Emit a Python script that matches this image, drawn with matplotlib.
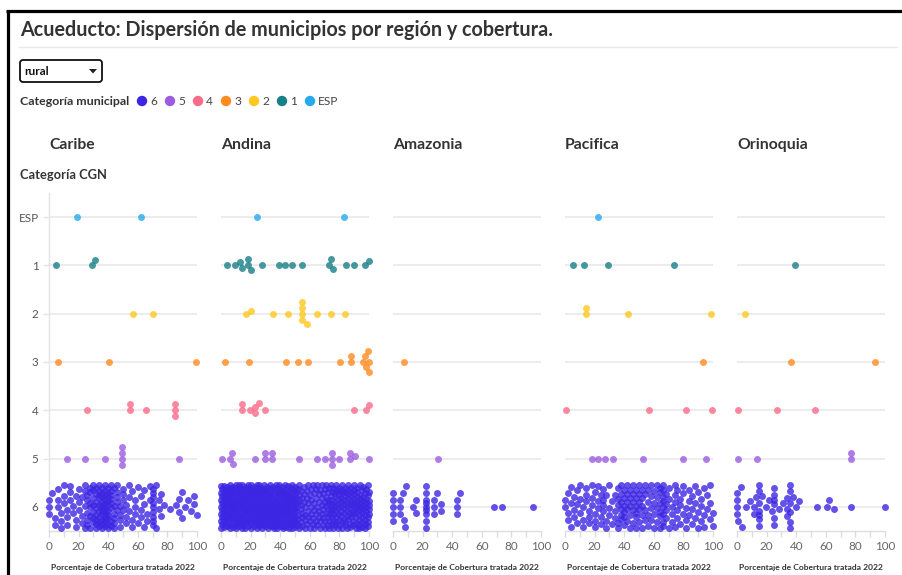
import numpy as np
import matplotlib
matplotlib.use("Agg")
import matplotlib.pyplot as plt
from matplotlib.lines import Line2D
from matplotlib.patches import FancyBboxPatch, Polygon, Circle

plt.rcParams['font.family'] = ['Lato', 'DejaVu Sans']

# ---------------- data ----------------
REGIONS = ["Caribe", "Andina", "Amazonia", "Pacifica", "Orinoquia"]
ROW_LABELS = ["ESP", "1", "2", "3", "4", "5", "6"]
LEGEND_ORDER = ["6", "5", "4", "3", "2", "1", "ESP"]
COLORS = {"6": "#3c26e3", "5": "#9b5ce0", "4": "#f96b8b", "3": "#ff8b1f",
          "2": "#ffc71f", "1": "#177f87", "ESP": "#27a9ec"}
X_TICKS = [0, 20, 40, 60, 80, 100]

CARIBE_ESP = [19, 62]
CARIBE_1 = [5, 29, 31]
CARIBE_2 = [57, 70]
CARIBE_3 = [6, 40.5, 99.5]
CARIBE_4 = [26, 55, 55, 65.5, 85, 85, 85]
CARIBE_5 = [12, 24, 38, 49.5, 49.5, 49.5, 49.5, 88]
CARIBE_6_X = [0, 2, 4, 6, 8, 10, 12, 14, 16, 18, 20, 22, 24, 26, 28, 30, 32, 34, 36, 38,
              40, 42, 44, 46, 48, 50, 52, 54, 56, 58, 60, 62, 64, 66, 68, 70, 72, 74, 76, 78,
              80, 82, 84, 86, 88, 90, 92, 94, 96, 98, 100]
CARIBE_6_N = [3, 1, 2, 3, 3, 3, 3, 3, 2, 3, 3, 3, 4, 5, 6, 7, 8, 9, 11, 12,
              10, 8, 6, 5, 4, 4, 3, 3, 3, 3, 2, 3, 3, 2, 2, 9, 2, 2, 2, 1,
              0, 1, 0, 1, 2, 2, 1, 1, 1, 2, 1]

ANDINA_ESP = [24, 83]
ANDINA_1 = [4, 9.5, 13, 14, 18, 18, 20, 28, 39, 43, 48, 54.5, 73, 74, 76, 84.5, 90, 97, 100]
ANDINA_2 = [17, 20.5, 35, 45, 55, 55, 55, 55, 58, 65, 74, 84]
ANDINA_3 = [3, 19, 44, 52, 59, 80.5, 88, 88, 96, 97, 98, 99, 100, 100]
ANDINA_4 = [14, 14, 19.5, 23, 23, 26, 30, 90, 98, 100]
ANDINA_5 = [1, 6, 7.5, 8, 23, 30, 30, 34.5, 34.5, 53, 65, 70, 75, 75, 75, 80, 87, 87, 90.5, 100]
ANDINA_6_X = [0, 1, 2, 3, 4, 5, 6, 7, 8, 9, 10, 11, 12, 13, 14, 15, 16, 17, 18, 19,
              20, 21, 22, 23, 24, 25, 26, 27, 28, 29, 30, 31, 32, 33, 34, 35, 36, 37, 38, 39,
              40, 41, 42, 43, 44, 45, 46, 47, 48, 49, 50, 51, 52, 53, 54, 55, 56, 57, 58, 59,
              60, 61, 62, 63, 64, 65, 66, 67, 68, 69, 70, 71, 72, 73, 74, 75, 76, 77, 78, 79,
              80, 81, 82, 83, 84, 85, 86, 87, 88, 89, 90, 91, 92, 93, 94, 95, 96, 97, 98, 99, 100]
ANDINA_6_N = [7, 6, 7, 7, 6, 7, 7, 6, 7, 7, 6, 7, 7, 6, 7, 7, 6, 7, 7, 6,
              7, 7, 6, 7, 7, 6, 7, 7, 6, 7, 7, 6, 7, 7, 6, 7, 7, 6, 7, 7,
              6, 7, 7, 6, 7, 7, 6, 7, 6, 6, 6, 5, 5, 4, 4, 4, 3, 4, 3, 4,
              3, 4, 3, 4, 4, 3, 4, 3, 4, 4, 4, 4, 5, 5, 4, 5, 5, 5, 5, 5,
              5, 5, 5, 5, 5, 5, 5, 5, 5, 5, 5, 5, 5, 5, 5, 5, 5, 5, 5, 5, 5]

AMAZONIA_ESP = []
AMAZONIA_1 = []
AMAZONIA_2 = []
AMAZONIA_3 = [7.5]
AMAZONIA_4 = []
AMAZONIA_5 = [30.5]
AMAZONIA_6 = [0, 0, 0, 0, 0, 5, 5, 5, 7, 7.5, 8, 8.5, 13.5, 15.5, 15.5,
              22.5, 22.5, 22.5, 22.5, 22.5, 22.5, 22.5, 22.5, 22.5,
              28, 28, 28, 30, 32.5, 32.5, 43.5, 43.5, 43.5, 45, 68.5, 73.5, 94.5]

PACIFICA_ESP = [22]
PACIFICA_1 = [5.5, 12.5, 29, 73.5]
PACIFICA_2 = [14.5, 14.5, 42.5, 98.5]
PACIFICA_3 = [93]
PACIFICA_4 = [0.5, 56.5, 81.5, 99.5]
PACIFICA_5 = [18.5, 22.5, 27, 32.5, 52.5, 80, 95]
PACIFICA_6_X = [0, 2, 4, 6, 8, 10, 12, 14, 16, 18, 20, 22, 24, 26, 28, 30, 32, 34, 36, 38,
                40, 42, 44, 46, 48, 50, 52, 54, 56, 58, 60, 62, 64, 66, 68, 70, 72, 74, 76, 78,
                80, 82, 84, 86, 88, 90, 92, 94, 96, 98, 100]
PACIFICA_6_N = [2, 3, 3, 3, 3, 3, 3, 3, 3, 3, 4, 3, 3, 4, 3, 3, 2, 3, 5, 6,
                6, 5, 5, 5, 6, 5, 5, 4, 4, 4, 4, 4, 6, 8, 4, 3, 3, 4, 3, 3,
                3, 3, 3, 3, 3, 3, 3, 3, 2, 3, 2]

ORINOQUIA_ESP = []
ORINOQUIA_1 = [39]
ORINOQUIA_2 = [5.5]
ORINOQUIA_3 = [36.5, 93]
ORINOQUIA_4 = [1, 27, 53]
ORINOQUIA_5 = [1, 13.5, 77, 77]
ORINOQUIA_6 = [0, 0, 0, 0, 1, 2.5, 3.5, 6, 9, 11.5, 11.5, 13, 15, 15, 15, 15, 15, 15, 15,
               17, 19.5, 21.5, 23.5, 25, 25, 25, 25, 25, 25, 28.5, 31, 34, 34, 34,
               36, 36, 36, 36, 36, 36, 38, 40, 42, 54, 61, 62, 65.5, 77, 100]

DATA = {
    "Caribe": [CARIBE_ESP, CARIBE_1, CARIBE_2, CARIBE_3, CARIBE_4, CARIBE_5,
               list(np.repeat(CARIBE_6_X, CARIBE_6_N))],
    "Andina": [ANDINA_ESP, ANDINA_1, ANDINA_2, ANDINA_3, ANDINA_4, ANDINA_5,
               list(np.repeat(ANDINA_6_X, ANDINA_6_N))],
    "Amazonia": [AMAZONIA_ESP, AMAZONIA_1, AMAZONIA_2, AMAZONIA_3, AMAZONIA_4, AMAZONIA_5, AMAZONIA_6],
    "Pacifica": [PACIFICA_ESP, PACIFICA_1, PACIFICA_2, PACIFICA_3, PACIFICA_4, PACIFICA_5,
                 list(np.repeat(PACIFICA_6_X, PACIFICA_6_N))],
    "Orinoquia": [ORINOQUIA_ESP, ORINOQUIA_1, ORINOQUIA_2, ORINOQUIA_3, ORINOQUIA_4, ORINOQUIA_5, ORINOQUIA_6],
}

# ---------------- layout ----------------
W, H = 902, 575
fig = plt.figure(figsize=(W / 100, H / 100), dpi=100)
fig.patch.set_facecolor("white")

canvas = fig.add_axes([0, 0, 1, 1], zorder=0)
canvas.set_xlim(0, W)
canvas.set_ylim(H, 0)
canvas.axis("off")

TXT = "#333333"
# screenshot border
canvas.add_line(Line2D([6, W], [11, 11], color="black", lw=2.3, solid_capstyle="butt"))
canvas.add_line(Line2D([7.5, 7.5], [10, H], color="black", lw=2.3, solid_capstyle="butt"))

canvas.text(20, 30, "Acueducto: Dispersión de municipios por región y cobertura.",
            fontsize=14.2, fontweight="bold", color=TXT, va="center", ha="left")
canvas.add_line(Line2D([19, 897], [47, 47], color="#e8e8e8", lw=1.0))

# dropdown
canvas.add_patch(FancyBboxPatch((20, 60), 82, 22, boxstyle="round,pad=0,rounding_size=3",
                                fc="white", ec="#111111", lw=1.3))
canvas.text(24, 71.5, "rural", fontsize=8.6, fontweight="bold", color="#111111", va="center")
canvas.add_patch(Polygon([[89, 69], [97, 69], [93, 73.5]], closed=True, fc="#222222", ec="none"))

# legend
canvas.text(20, 101.5, "Categoría municipal", fontsize=8.9, fontweight="bold", color=TXT, va="center")
lx = 142
for cat in LEGEND_ORDER:
    canvas.add_patch(Circle((lx, 101), 5.2, fc=COLORS[cat], ec="none"))
    canvas.text(lx + 8, 101.5, cat, fontsize=8.6, color="#444444", va="center")
    lx += 28

canvas.text(20, 175, "Categoría CGN", fontsize=9.3, fontweight="bold", color=TXT, va="center")

PANEL_X0 = [49, 221, 393, 565, 737]
PANEL_W = 148
TOP, BOTTOM = 193, 531


def swarm(vals, xscale, yscale, d=5.8, limit=21.0, step=0.5):
    vals = np.asarray(vals, dtype=float)
    n = len(vals)
    offs = np.zeros(n)
    if n == 0:
        return offs
    ks = np.arange(1, int(limit / step) + 1) * step
    cand = np.concatenate([[0.0], np.ravel(np.column_stack([-ks, ks]))])
    xs = vals * xscale
    order = np.argsort(vals, kind="stable")
    px, py = [], []
    for i in order:
        x = xs[i]
        o = 0.0
        if px:
            PX = np.array(px)
            PY = np.array(py)
            near = np.abs(PX - x) < d
            if near.any():
                dx = PX[near] - x
                dy = PY[near]
                dist = np.sqrt(dx[None, :] ** 2 + (cand[:, None] - dy[None, :]) ** 2).min(axis=1)
                ok = np.where(dist >= d)[0]
                o = cand[ok[0]] if len(ok) else cand[np.argmax(dist)]
        px.append(x)
        py.append(o)
        offs[i] = o / yscale
    return offs


for k, reg in enumerate(REGIONS):
    x0 = PANEL_X0[k]
    ax = fig.add_axes([x0 / W, 1 - BOTTOM / H, PANEL_W / W, (BOTTOM - TOP) / H], zorder=2)
    ax.patch.set_alpha(0)
    ax.set_xlim(0, 100)
    ax.set_ylim(6.5, -0.5)
    xscale = PANEL_W / 100.0
    yscale = (BOTTOM - TOP) / 7.0
    ax.hlines(range(7), 0, 100, color="#ebebeb", lw=1.3, zorder=0)
    for r, cat in enumerate(ROW_LABELS):
        vals = DATA[reg][r]
        if len(vals) == 0:
            continue
        if r == 6:
            off = swarm(vals, xscale, yscale, d=7.0, limit=21.5)
        else:
            off = swarm(vals, xscale, yscale)
        ax.scatter(vals, r + off, s=25, color=COLORS[cat], alpha=0.8, linewidths=0,
                   clip_on=False, zorder=3)
    for sp in ["top", "right"]:
        ax.spines[sp].set_visible(False)
    ax.spines["bottom"].set_color("#dddddd")
    ax.spines["bottom"].set_linewidth(1.0)
    ax.set_xticks(X_TICKS)
    ax.set_xticks([10, 30, 50, 70, 90], minor=True)
    ax.set_xticklabels([str(t) for t in X_TICKS])
    ax.tick_params(axis="x", which="both", length=4, width=1, color="#dddddd",
                   labelsize=8.4, labelcolor="#666666", pad=3)
    if k == 0:
        ax.spines["left"].set_color("#e4e4e4")
        ax.spines["left"].set_linewidth(1.0)
        ax.set_yticks(range(7))
        ax.set_yticklabels(ROW_LABELS)
        ax.tick_params(axis="y", length=4.5, width=1, color="#e4e4e4",
                       labelsize=8.4, labelcolor="#555555", pad=3)
    else:
        ax.spines["left"].set_visible(False)
        ax.set_yticks([])
    canvas.text(x0, 145, reg, fontsize=11.3, fontweight="bold", color=TXT, va="center", ha="left")
    canvas.text(x0 + PANEL_W / 2, 567.5, "Porcentaje de Cobertura tratada 2022",
                fontsize=6.1, fontweight="bold", color=TXT, va="center", ha="center")

fig.savefig("out.png", dpi=100, facecolor="white")
